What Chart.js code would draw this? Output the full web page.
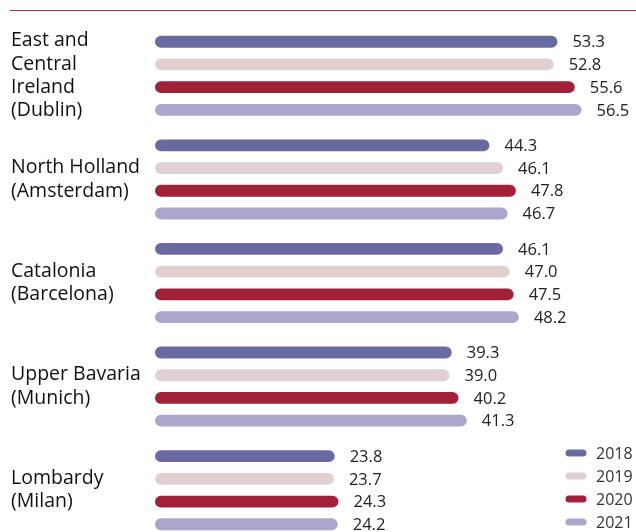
<!DOCTYPE html>
<html>
<head>
<meta charset="utf-8">
<script src="https://cdn.jsdelivr.net/npm/chart.js@4"></script>
<style>
  html, body { margin: 0; padding: 0; background: #fff; overflow: hidden; }
  .topline { position: absolute; left: 10px; right: 0; top: 10px; height: 1px; background: #b3263a; }
  canvas { display: block; }
</style>
</head>
<body>
<div class="topline"></div>
<canvas id="chart" width="636" height="542"></canvas>
<script>
// Regions (y axis) and yearly values
const regions = [
  ["East and", "Central", "Ireland", "(Dublin)"],
  ["North Holland", "(Amsterdam)"],
  ["Catalonia", "(Barcelona)"],
  ["Upper Bavaria", "(Munich)"],
  ["Lombardy", "(Milan)"]
];
const years = ["2018", "2019", "2020", "2021"];
const values2018 = [53.3, 44.3, 46.1, 39.3, 23.8];
const values2019 = [52.8, 46.1, 47.0, 39.0, 23.7];
const values2020 = [55.6, 47.8, 47.5, 40.2, 24.3];
const values2021 = [56.5, 46.7, 48.2, 41.3, 24.2];
const couleurs = ["#6a6aa2", "#e0d0d2", "#a32039", "#aba6cc"];

const series = [values2018, values2019, values2020, values2021];

// value labels at the end of each bar
const valueLabels = {
  id: "valueLabels",
  afterDatasetsDraw(chart) {
    const ctx = chart.ctx;
    ctx.save();
    ctx.font = "16.5px 'Open Sans'";
    ctx.fillStyle = "#222";
    ctx.textAlign = "left";
    ctx.textBaseline = "middle";
    chart.data.datasets.forEach((ds, i) => {
      chart.getDatasetMeta(i).data.forEach((bar, j) => {
        ctx.fillText(ds.data[j].toFixed(1), bar.x + 15, bar.y + 1);
      });
    });
    ctx.restore();
  }
};

// legend in the bottom right corner
const cornerLegend = {
  id: "cornerLegend",
  afterDraw(chart) {
    const ctx = chart.ctx;
    ctx.save();
    ctx.font = "16px 'Open Sans'";
    ctx.textBaseline = "middle";
    chart.data.datasets.forEach((ds, i) => {
      const y = 453 + i * 23;
      ctx.strokeStyle = ds.backgroundColor;
      ctx.lineWidth = 7;
      ctx.lineCap = "round";
      ctx.beginPath();
      ctx.moveTo(569, y);
      ctx.lineTo(583, y);
      ctx.stroke();
      ctx.fillStyle = "#333";
      ctx.fillText(ds.label, 596, y + 1);
    });
    ctx.restore();
  }
};

new Chart(document.getElementById("chart"), {
  type: "bar",
  data: {
    labels: regions,
    datasets: series.map((data, i) => ({
      label: years[i],
      data: data,
      backgroundColor: couleurs[i],
      categoryPercentage: 0.877,
      barPercentage: 0.52,
      borderRadius: 6,
      borderSkipped: false
    }))
  },
  options: {
    indexAxis: "y",
    responsive: false,
    animation: false,
    layout: { padding: { top: 24, bottom: 0, left: 11, right: 28 } },
    plugins: {
      legend: { display: false },
      tooltip: { enabled: false }
    },
    scales: {
      x: {
        display: false,
        min: 0,
        max: 60
      },
      y: {
        grid: { display: false },
        border: { display: false },
        afterFit(scale) {
          scale.width = 144;
          scale.paddingTop = 0;
          scale.paddingBottom = 0;
        },
        ticks: {
          crossAlign: "far",
          color: "#111",
          padding: 0,
          font: { family: "Open Sans", size: 19.5, lineHeight: 1.2 }
        }
      }
    }
  },
  plugins: [valueLabels, cornerLegend]
});
</script>
</body>
</html>
